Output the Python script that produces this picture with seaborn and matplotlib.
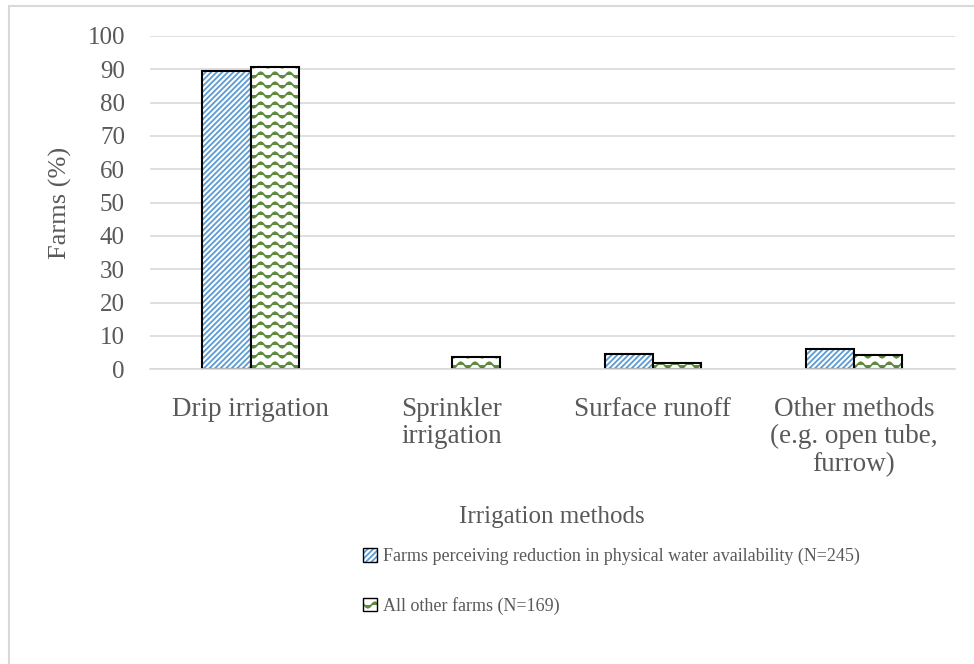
import numpy as np
import pandas as pd
import matplotlib
matplotlib.use('Agg')
import matplotlib.pyplot as plt
import seaborn as sns
from matplotlib import hatch as mhatch
from matplotlib.path import Path
from matplotlib.patches import Patch, Rectangle

# ============================================================
# DATA
# ============================================================
methods = ['Drip irrigation', 'Sprinkler\nirrigation', 'Surface runoff',
           'Other methods\n(e.g. open tube,\nfurrow)']
group_names = ['Farms perceiving reduction in physical water availability (N=245)',
               'All other farms (N=169)']
reduced_vals = [89.5, 0.0, 4.5, 6.2]
other_vals = [90.6, 3.8, 1.8, 4.2]

df = pd.DataFrame({
    'method': methods * 2,
    'group': [group_names[0]] * 4 + [group_names[1]] * 4,
    'pct': reduced_vals + other_vals,
})


# ============================================================
# wavy hatch (replaces the plain '-' hatch)
# ============================================================
class WaveHatch(mhatch.HatchPatternBase):
    def __init__(self, hatch, density):
        self.num_lines = 10 if '-' in hatch else 0
        self.pts = 57
        self.num_vertices = self.num_lines * self.pts

    def set_vertices_and_codes(self, vertices, codes):
        xs = np.linspace(0, 1, self.pts)
        for i in range(self.num_lines):
            y0 = (i + 0.5) / self.num_lines
            seg = vertices[i * self.pts:(i + 1) * self.pts]
            seg[:, 0] = xs
            seg[:, 1] = y0 + 0.028 * np.sin(2 * np.pi * 7 * xs)
            codes[i * self.pts] = Path.MOVETO
            codes[i * self.pts + 1:(i + 1) * self.pts] = Path.LINETO


mhatch._hatch_types = [WaveHatch if t is mhatch.HorizontalHatch else t
                       for t in mhatch._hatch_types]

# ============================================================
# STYLE
# ============================================================
sns.set_theme(style='white')
plt.rcParams['font.family'] = ['Liberation Serif', 'DejaVu Serif']
plt.rcParams['hatch.linewidth'] = 1.3
txt = '#595959'
blue = '#5B9BD5'
green = '#5E8C3E'

fig = plt.figure(figsize=(9.74, 6.64), dpi=100)
ax = fig.add_axes([0.154, 0.444, 0.826, 0.502])

sns.barplot(data=df, x='method', y='pct', hue='group', hue_order=group_names,
            palette=['white', 'white'], edgecolor='black', linewidth=1.5,
            width=0.48, gap=0, ax=ax, legend=False)

hatches = [('//////', blue), ('-', green)]
for (h, c), cont in zip(hatches, ax.containers):
    for bar in cont:
        bar.set_hatch(h)
        bar._hatch_color = matplotlib.colors.to_rgba(c)
        if bar.get_height() == 0:
            bar.set_linewidth(0)

ax.set_ylim(0, 100)
ax.set_yticks(range(0, 101, 10))
ax.grid(axis='y', color='#d9d9d9', linewidth=1.2)
ax.set_axisbelow(True)
for s in ['top', 'right', 'left']:
    ax.spines[s].set_visible(False)
ax.spines['bottom'].set_color('#d9d9d9')
ax.spines['bottom'].set_linewidth(1.2)
ax.tick_params(axis='both', length=0, colors=txt)
ax.tick_params(axis='y', labelsize=18, pad=18)
ax.tick_params(axis='x', labelsize=19.5, pad=20)
for lab in ax.get_xticklabels():
    lab.set_linespacing(1.12)
ax.set_xlabel('Irrigation methods', fontsize=18, color=txt, labelpad=21)
ax.set_ylabel('Farms (%)', fontsize=19, color=txt, labelpad=11)

handles = [Patch(facecolor='white', edgecolor='black', hatch='//////'),
           Patch(facecolor='white', edgecolor='black', hatch='-')]
leg = fig.legend(handles, group_names, loc='upper left',
                 bbox_to_anchor=(0.356, 0.199), frameon=False, fontsize=13,
                 handlelength=0.75, handleheight=0.75, handletextpad=0.35,
                 labelspacing=1.75, labelcolor=txt)
for hnd, c in zip(leg.legend_handles, [blue, green]):
    hnd._hatch_color = matplotlib.colors.to_rgba(c)

# chart border
fig.patches.append(Rectangle((0.009, -0.01), 1.0, 1.001, transform=fig.transFigure,
                             facecolor='none', edgecolor='#d9d9d9',
                             linewidth=1.5, figure=fig))

fig.savefig('out.png', dpi=100)
